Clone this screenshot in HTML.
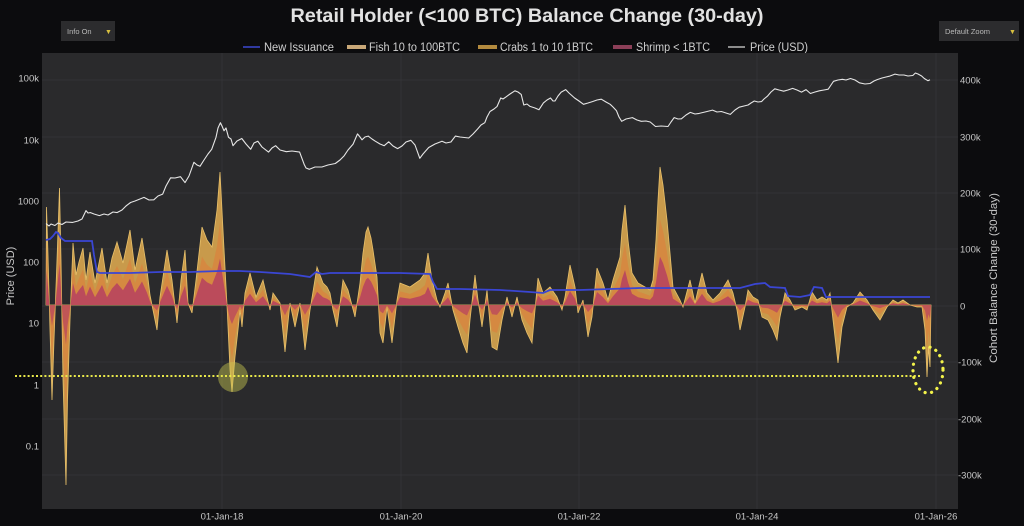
<!DOCTYPE html>
<html>
<head>
<meta charset="utf-8">
<style>
  html,body{margin:0;padding:0;background:#0c0c0e;}
  svg{display:block;}
  text{font-family:"Liberation Sans",sans-serif;}
</style>
</head>
<body>
<svg width="1024" height="526" viewBox="0 0 1024 526" xmlns="http://www.w3.org/2000/svg">
  <rect x="0" y="0" width="1024" height="526" fill="#0c0c0e"/>

  <!-- Title -->
  <text x="527" y="22" font-size="19.5" font-weight="bold" fill="#e2e2e2" text-anchor="middle" textLength="473" lengthAdjust="spacingAndGlyphs">Retail Holder (&lt;100 BTC) Balance Change (30-day)</text>

  <!-- Info On box -->
  <rect x="61" y="21" width="54" height="20" fill="#2c2c2e"/>
  <text x="67" y="34" font-size="7.5" fill="#b8b8b8">Info On</text>
  <text x="105" y="34" font-size="7" fill="#d8c040">▼</text>
  <!-- Default Zoom box -->
  <rect x="939" y="21" width="80" height="20" fill="#2c2c2e"/>
  <text x="945" y="34" font-size="7.5" fill="#b8b8b8">Default Zoom</text>
  <text x="1009" y="34" font-size="7" fill="#d8c040">▼</text>

  <!-- Legend -->
  <line x1="243" y1="47" x2="260" y2="47" stroke="#3c48d0" stroke-width="1.5"/>
  <text x="264" y="51" font-size="11.5" fill="#cfcfcf" textLength="70" lengthAdjust="spacingAndGlyphs">New Issuance</text>
  <rect x="347" y="45" width="19" height="4" fill="#c9a878"/>
  <text x="369" y="51" font-size="11.5" fill="#cfcfcf" textLength="91" lengthAdjust="spacingAndGlyphs">Fish 10 to 100BTC</text>
  <rect x="478" y="45" width="19" height="4" fill="#b38a3e"/>
  <text x="500" y="51" font-size="11.5" fill="#cfcfcf" textLength="93" lengthAdjust="spacingAndGlyphs">Crabs 1 to 10 1BTC</text>
  <rect x="613" y="45" width="19" height="4" fill="#8c3f58"/>
  <text x="636" y="51" font-size="11.5" fill="#cfcfcf" textLength="74" lengthAdjust="spacingAndGlyphs">Shrimp &lt; 1BTC</text>
  <line x1="728" y1="47" x2="745" y2="47" stroke="#d8d8d8" stroke-width="1.2"/>
  <text x="750" y="51" font-size="11.5" fill="#cfcfcf" textLength="58" lengthAdjust="spacingAndGlyphs">Price (USD)</text>

  <!-- Plot area -->
  <rect x="42" y="53" width="916" height="456" fill="#2a2a2c"/>

  <!-- grid -->
  <g stroke="#333336" stroke-width="1">
    <line x1="42" y1="80" x2="958" y2="80"/>
    <line x1="42" y1="137" x2="958" y2="137"/>
    <line x1="42" y1="193" x2="958" y2="193"/>
    <line x1="42" y1="249" x2="958" y2="249"/>
    <line x1="42" y1="306" x2="958" y2="306"/>
    <line x1="42" y1="362" x2="958" y2="362"/>
    <line x1="42" y1="419" x2="958" y2="419"/>
    <line x1="42" y1="475" x2="958" y2="475"/>
    <line x1="222" y1="53" x2="222" y2="509"/>
    <line x1="401" y1="53" x2="401" y2="509"/>
    <line x1="579" y1="53" x2="579" y2="509"/>
    <line x1="757" y1="53" x2="757" y2="509"/>
    <line x1="936" y1="53" x2="936" y2="509"/>
  </g>

  <defs>
    <path id="bal" d="M46,305 L46.5,207 48,255 50,330 52,400 54,340 57,260 59.5,188 61,260 63,380 66,485 67.5,400 70,320 73,243 76,275 79,262 83,248 86,280 90,252 95,283 102,248 107,283 112,258 117,242 123,263 130,230 135,270 142,238 147,270 150,295 153,310 157,330 160,297 167,250 172,280 177,323 181,280 185,250 188,303 192,313 196,280 202,227 207,240 212,247 217,210 220,172 223,230 227,305 230,370 232,392 235,357 238,330 240,310 242,327 245,293 250,273 256,297 263,280 270,310 273,293 280,303 285,352 290,303 295,327 300,303 305,350 310,310 317,267 323,283 327,287 330,293 333,310 337,327 343,280 348,290 355,317 360,283 363,253 366,232 368,227 371,238 373,250 377,277 380,333 383,343 387,307 392,343 397,300 400,283 410,287 420,280 425,273 428,253 432,280 437,300 440,307 445,293 448,283 453,310 458,327 463,343 467,353 470,320 475,275 478,300 482,327 487,290 492,347 497,350 502,320 507,297 512,317 517,297 522,320 527,333 532,343 535,310 538,278 543,293 550,287 557,297 562,310 565,297 570,265 575,287 578,313 583,300 588,337 592,317 597,268 603,283 608,300 613,280 620,257 622,230 625,205 628,240 632,273 638,283 645,287 650,290 653,280 656,240 658,200 660,167 663,185 667,220 670,253 673,287 680,300 683,307 690,280 695,303 702,273 707,293 713,300 720,293 728,280 733,293 737,310 740,330 745,307 748,290 753,297 758,300 762,317 768,320 773,330 777,340 780,317 785,293 790,300 795,310 802,307 807,310 812,292 817,300 822,297 827,300 830,293 833,320 838,363 842,327 847,307 853,303 860,292 867,300 873,310 880,320 887,307 893,300 898,303 903,300 910,305 917,307 922,307 925,330 927,377 928.5,347 930,367 931,305 Z"/>
    <clipPath id="pos"><rect x="0" y="0" width="1024" height="305"/></clipPath>
    <clipPath id="neg"><rect x="0" y="305" width="1024" height="221"/></clipPath>
  </defs>

  <!-- Fish (outer) -->
  <use href="#bal" fill="#d6a44e" fill-opacity="0.92" stroke="#e8c06a" stroke-width="0.8"/>
  <!-- Crabs -->
  <use href="#bal" fill="#d8843f" fill-opacity="0.8" transform="translate(0,305) scale(1,0.62) translate(0,-305)"/>
  <!-- Shrimp -->
  <g clip-path="url(#pos)">
    <use href="#bal" fill="#b8455e" fill-opacity="0.9" transform="translate(0,305) scale(1,0.35) translate(0,-305)"/>
  </g>
  <g clip-path="url(#neg)">
    <use href="#bal" fill="#b8455e" fill-opacity="0.75" transform="translate(0,305) scale(1,0.22) translate(0,-305)"/>
  </g>

  <!-- New Issuance -->
  <polyline fill="none" stroke="#3a46d4" stroke-width="1.8" points="46,240 50,239 53,236 56,232 58,233 61,238 65,241 80,241 92,241 94,255 97,272 100,273 130,273 160,272 190,272 220,271 240,271 260,272 290,274 310,277 316,272 322,274 330,273 360,273 400,273 430,274 433,282 437,289 460,289 500,290 530,292 543,293 550,290 580,290 610,289 640,288 700,288 740,288 755,284 765,283 770,287 785,288 788,296 800,297 810,295 814,287 822,288 826,297 860,297 900,297 930,297"/>

  <!-- Price -->
  <polyline fill="none" stroke="#e6e6e6" stroke-width="1.1" stroke-linejoin="round" points="46,223.6 49,226 51,224 54.9,225.5 58,223 62,224.5 66,222 72.7,222.4 78,221 82,219 86,210.6 88,213 90.5,212.6 94,214 99.4,215.6 104,214 108,215 113,212 117,212.6 122,210 126,206 130.6,202.5 135,201 140,199 144,197.4 149,200 153.8,199.8 158,196 162.7,194.1 166,186 170.6,177.8 175,178 180.5,176.7 185,182.6 189,176 193.9,162.3 197,165 200,166.3 204,160 208,154 211.7,149.3 216,137.3 218,128 220.4,122.7 222,126 224,130.8 226,128 228.5,137.3 231,139 233,145.7 237,141 241.8,138.5 246,144 250.7,149.3 254,143 257.8,141.2 262,147 268.5,152.1 272,148 275.6,145.7 280,150 286.3,151.7 292,151 299.6,152.1 304.1,164.2 306,168 309.4,169.3 315,167 321.9,167 328,165 335.3,163.5 340,160 344.2,155.7 348,150 353.1,144.1 357.5,133.9 360,137 362,139.8 365,137 368.2,136.1 372,139 375.3,141.2 380,144 384.2,145.7 388.7,141.8 393,146 397.6,148.6 402,146 406,142 410.9,140.3 415,145 419.8,158.3 423,154 428.7,147.5 435,144 442,141.2 446,143 450.9,142 455.4,136.1 460,137 468.7,138 473,134 477.6,129 481,125 484.8,122.7 487,117 490,111.5 494,109 497.1,106.4 500.7,98 503,99 506,96.9 510,94 514.9,90.8 518,92 521.2,94.4 523.8,105 527,104 530,106.4 535,108 539,109.7 543.4,102.9 547,100 550.5,98 553,101 555,101 558,96 561.2,92.1 565.7,89.6 569,93 574.6,98 579,101 583.5,104.3 588,103 592.4,101.6 597,100 601.3,99.2 606,102 610.2,104.3 613,107 616.4,110.6 619,117 621.7,121.3 626,119 632.4,117.6 637,120 641.3,121.3 646,121 650.2,122 655.5,126.5 661,126 668,126.5 671,122 674.2,117.6 678,119 681.4,118.8 686,115 690.3,112.4 695,114 699.2,113.4 705,112 712.5,110.1 717,112 721.4,111.5 726,113 730.3,114.4 735,110 739.2,107.2 744,106 748.1,105 751,103 754.3,101 758,102 761.5,101.6 764,99 767.7,95.9 771,92 774.8,88.8 779,90 783.7,91.2 788,90 792.6,88.4 797,90 801.5,92.1 806,89.6 810.4,93.5 815,92 819.3,90.8 824,90 828.2,89.2 831,85 833.5,81.3 838,80 842.4,79.3 846,80 850.5,78.5 855,80 859.4,82.8 865,84 870,83.5 874,81 877.2,79.6 882,78 886,77 890,76 895,74.1 899,75 903.9,75 908,76 912.8,75.5 915.4,73 918,74 921.6,76 924.3,78.5 927.9,80.7 930,79.8"/>

  <!-- Annotations -->
  <circle cx="233" cy="377" r="15" fill="#c8c850" fill-opacity="0.45"/>
  <line x1="15" y1="376" x2="922" y2="376" stroke="#e8e84a" stroke-width="2" stroke-dasharray="2 2.2"/>
  <ellipse cx="928" cy="370" rx="15" ry="23" fill="none" stroke="#f2f24a" stroke-width="3.2" stroke-linecap="round" stroke-dasharray="0.1 6.5"/>

  <!-- Left axis labels -->
  <g font-size="9.5" fill="#c8c8c8" text-anchor="end">
    <text x="39" y="81.5">100k</text>
    <text x="39" y="143.5">10k</text>
    <text x="39" y="204.5">1000</text>
    <text x="39" y="265.5">100</text>
    <text x="39" y="326.5">10</text>
    <text x="39" y="388.5">1</text>
    <text x="39" y="449.5">0.1</text>
  </g>
  <text transform="translate(14,276) rotate(-90)" font-size="11" fill="#c8c8c8" text-anchor="middle">Price (USD)</text>

  <!-- Right axis labels -->
  <g font-size="9.5" fill="#c8c8c8">
    <text x="960" y="83.5">400k</text>
    <text x="960" y="140.5">300k</text>
    <text x="960" y="196.5">200k</text>
    <text x="960" y="252.5">100k</text>
    <text x="960" y="309.5">0</text>
    <text x="958" y="365.5">-100k</text>
    <text x="958" y="422.5">-200k</text>
    <text x="958" y="478.5">-300k</text>
  </g>
  <text transform="translate(997,278) rotate(-90)" font-size="11" fill="#c8c8c8" text-anchor="middle" textLength="170" lengthAdjust="spacingAndGlyphs">Cohort Balance Change (30-day)</text>

  <!-- Bottom axis labels -->
  <g font-size="9.5" fill="#c8c8c8" text-anchor="middle">
    <text x="222" y="519.5">01-Jan-18</text>
    <text x="401" y="519.5">01-Jan-20</text>
    <text x="579" y="519.5">01-Jan-22</text>
    <text x="757" y="519.5">01-Jan-24</text>
    <text x="936" y="519.5">01-Jan-26</text>
  </g>
</svg>
</body>
</html>
